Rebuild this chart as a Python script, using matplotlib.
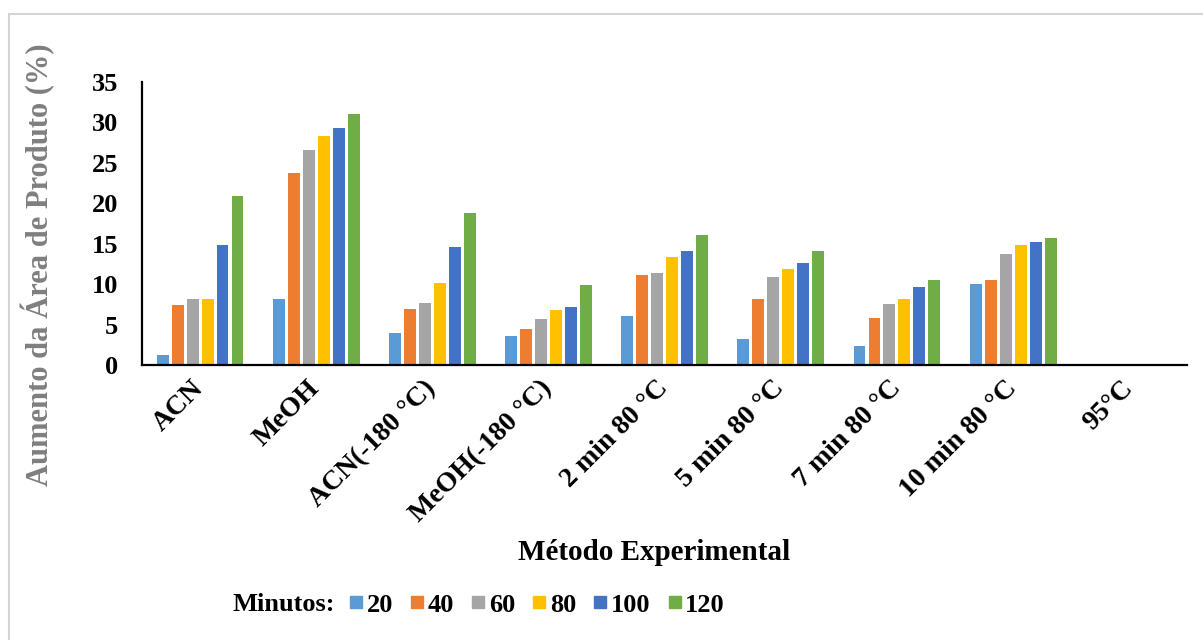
import numpy as np
import matplotlib
matplotlib.use("Agg")
import matplotlib.pyplot as plt
from matplotlib.lines import Line2D
from matplotlib.patches import Rectangle

# Categories and series (aumento da área de produto, %)
metodos = ["ACN", "MeOH", "ACN(-180 °C)", "MeOH(-180 °C)", "2 min 80 °C",
           "5 min 80 °C", "7 min 80 °C", "10 min 80 °C", "95°C"]
minutos = ["20", "40", "60", "80", "100", "120"]

m20 = [1.2, 8.2, 3.9, 3.6, 6.1, 3.2, 2.3, 10.0, 0]
m40 = [7.4, 23.8, 6.9, 4.4, 11.1, 8.2, 5.8, 10.5, 0]
m60 = [8.2, 26.6, 7.7, 5.7, 11.4, 10.9, 7.5, 13.7, 0]
m80 = [8.2, 28.3, 10.1, 6.8, 13.4, 11.9, 8.2, 14.9, 0]
m100 = [14.9, 29.3, 14.6, 7.2, 14.1, 12.6, 9.7, 15.2, 0]
m120 = [20.9, 31.0, 18.8, 9.9, 16.1, 14.1, 10.5, 15.7, 0]

series = [m20, m40, m60, m80, m100, m120]
cores = ["#5B9BD5", "#ED7D31", "#A5A5A5", "#FFC000", "#4472C4", "#70AD47"]

plt.rcParams["font.family"] = ["Liberation Serif", "DejaVu Serif"]
plt.rcParams["font.weight"] = "bold"

fig = plt.figure(figsize=(12.03, 6.40), dpi=100)
ax = fig.add_axes([0.118, 0.4297, 0.869, 0.4422])

x = np.arange(len(metodos))
passo = 0.129
for i, (vals, cor) in enumerate(zip(series, cores)):
    ax.bar(x + (i - 2.5) * passo, vals, width=0.103, color=cor,
           label=minutos[i], zorder=2)

ax.set_xlim(-0.5, len(metodos) - 0.5)
ax.set_ylim(0, 35)
ax.set_yticks(range(0, 36, 5))
ax.set_xticks(x)
ax.set_xticklabels(metodos, rotation=45, ha="right", va="center",
                   rotation_mode="anchor", fontsize=20, fontweight="bold")
ax.tick_params(axis="y", length=0, pad=17, labelsize=19)
ax.tick_params(axis="x", length=0, pad=14)
for t in ax.get_yticklabels():
    t.set_fontweight("bold")

ax.spines["top"].set_visible(False)
ax.spines["right"].set_visible(False)
ax.spines["left"].set_linewidth(1.6)
ax.spines["bottom"].set_linewidth(1.6)

ax.set_ylabel("Aumento da Área de Produto (%)", fontsize=22,
              fontweight="bold", color="#7f7f7f")
ax.yaxis.set_label_coords(-0.083, 0.355)

fig.text(0.544, 0.136, "Método Experimental", ha="center", va="center",
         fontsize=21, fontweight="bold")

# Legend row: small square swatches
fig.text(0.236, 0.055, "Minutos:", ha="center", va="center",
         fontsize=19, fontweight="bold")
handles = [Line2D([], [], marker="s", linestyle="none", color=c,
                  markersize=9) for c in cores]
leg = fig.legend(handles, minutos, loc="center",
                 bbox_to_anchor=(0.447, 0.055), ncol=6, frameon=False,
                 handlelength=0.4, handletextpad=0.2, columnspacing=0.72,
                 prop={"weight": "bold", "size": 19})

# Chart area border
fig.patches.append(Rectangle((9 / 1203, -0.05), 1.1, 0.05 + 1 - 14 / 640,
                             transform=fig.transFigure, fill=False,
                             edgecolor="#d4d4d4", linewidth=1.5))

fig.savefig("out.png", dpi=100)
